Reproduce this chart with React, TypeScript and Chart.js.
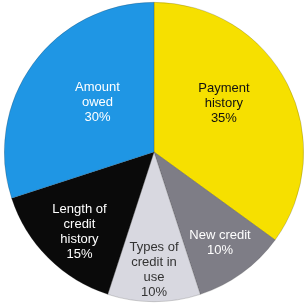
import React, { useEffect, useRef } from "react";
import { Chart, registerables } from "chart.js";

Chart.register(...registerables);

const categories: string[][] = [
  ["Payment", "history"],
  ["New credit"],
  ["Types of", "credit in", "use"],
  ["Length of", "credit", "history"],
  ["Amount", "owed"],
];
const shares: number[] = [35, 10, 10, 15, 30];
const percentLabels: string[] = ["35%", "10%", "10%", "15%", "30%"];

const sliceColors = ["#F6E000", "#7E7D86", "#D8D8E0", "#0A0A0A", "#1F96E4"];
const rimColors = ["#FFEF1A", "#8A8992", "#E4E4EC", "#1A1A1A", "#2A9EEA"];
const textColors = ["#111111", "#FFFFFF", "#333333", "#FFFFFF", "#FFFFFF"];
// label placement: fraction of radius, angular shift (deg)
const labelRadius = [0.57, 0.75, 0.79, 0.73, 0.5];
const labelShift = [-8, 0, 0, -2, 5];

const labelPlugin = {
  id: "sliceLabels",
  afterDatasetsDraw(chart: any) {
    const ctx = chart.ctx;
    const meta = chart.getDatasetMeta(0);
    ctx.save();
    ctx.font = "13px 'Liberation Sans', Arial, sans-serif";
    ctx.textAlign = "center";
    ctx.textBaseline = "middle";
    meta.data.forEach((arc: any, i: number) => {
      const p = arc.getProps(["x", "y", "startAngle", "endAngle", "outerRadius"], true);
      const mid = (p.startAngle + p.endAngle) / 2 + (labelShift[i] * Math.PI) / 180;
      const r = p.outerRadius * labelRadius[i];
      const cx = p.x + Math.cos(mid) * r;
      const cy = p.y + Math.sin(mid) * r;
      const lines = [...categories[i], percentLabels[i]];
      const lh = 15;
      ctx.fillStyle = textColors[i];
      lines.forEach((ln, k) => {
        ctx.fillText(ln, cx, cy + (k - (lines.length - 1) / 2) * lh);
      });
    });
    ctx.restore();
  },
};

export default function App() {
  const ref = useRef<HTMLCanvasElement>(null);
  useEffect(() => {
    if (!ref.current) return;
    const chart = new Chart(ref.current, {
      type: "pie",
      data: {
        labels: categories.map((c) => c.join(" ")),
        datasets: [
          {
            data: shares,
            backgroundColor: (c: any) => {
              const chartObj = c.chart;
              const arc = chartObj.getDatasetMeta(0).data[c.dataIndex] as any;
              if (!arc || !arc.outerRadius) return sliceColors[c.dataIndex];
              const g = chartObj.ctx.createRadialGradient(arc.x, arc.y, 0, arc.x, arc.y, arc.outerRadius);
              g.addColorStop(0, sliceColors[c.dataIndex]);
              g.addColorStop(0.85, sliceColors[c.dataIndex]);
              g.addColorStop(1, rimColors[c.dataIndex]);
              return g;
            },
            borderColor: "rgba(40,40,40,0.35)",
            borderWidth: 0.6,
          },
        ],
      },
      options: {
        animation: false,
        responsive: false,
        maintainAspectRatio: false,
        layout: { padding: { left: 3, right: 1, top: 2, bottom: 2 } },
        plugins: {
          legend: { display: false },
          tooltip: { enabled: false },
        },
      },
      plugins: [labelPlugin],
    });
    return () => chart.destroy();
  }, []);
  return (
    <div style={{ position: "fixed", left: 0, top: 0, width: 306, height: 304, background: "#fff" }}>
      <canvas ref={ref} width={306} height={304} style={{ width: 306, height: 304 }} />
    </div>
  );
}
